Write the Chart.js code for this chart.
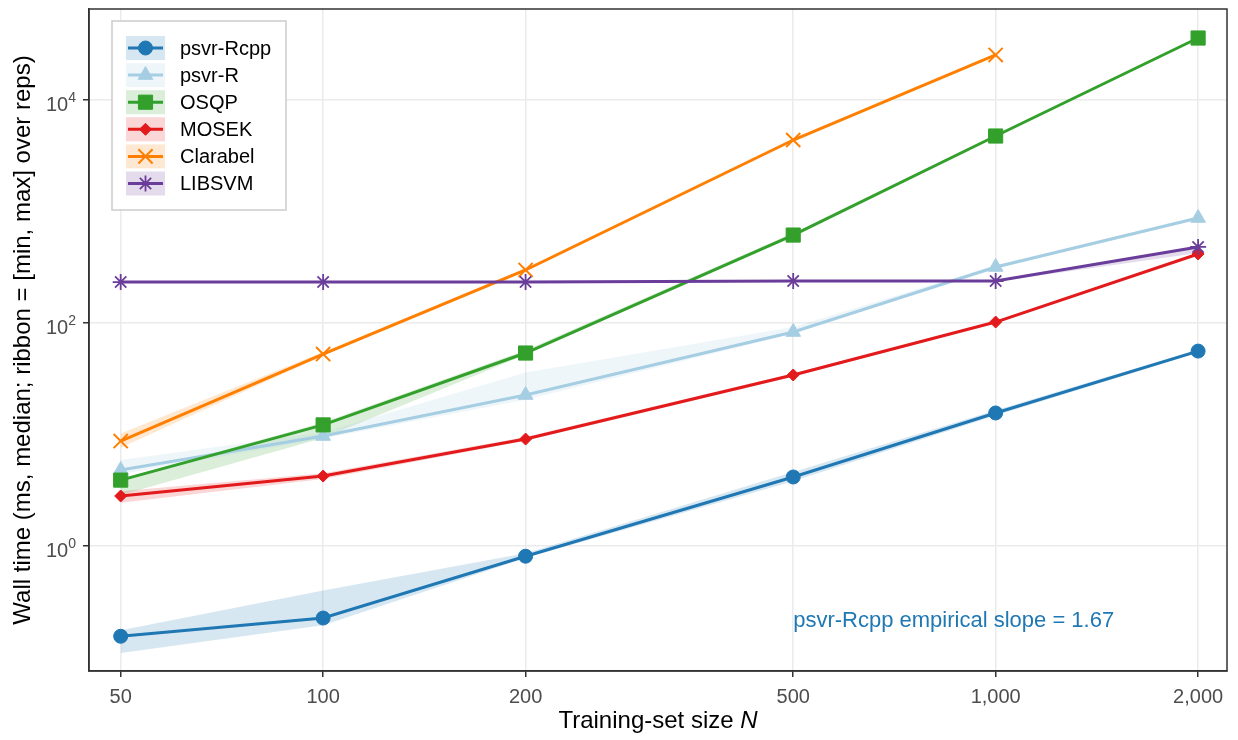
<!DOCTYPE html>
<html>
<head>
<meta charset="utf-8">
<script src="https://cdn.jsdelivr.net/npm/chart.js@4.4.1/dist/chart.umd.min.js"></script>
<style>
  html, body { margin: 0; padding: 0; background: #fff; }
  #wrap { width: 1238px; height: 740px; overflow: hidden; position: relative; }
  /* point overflow forces 12px top padding, so shift the canvas up a little */
  #chart { position: absolute; left: 0; top: -3px; }
</style>
</head>
<body>
<div id="wrap"><canvas id="chart" width="1239" height="743"></canvas></div>
<script>
// Training-set sizes (x) and tick labels
const sizes = [50, 100, 200, 500, 1000, 2000];
const xTicks = [50, 100, 200, 500, 1000, 2000];
const yTicks = [1, 100, 10000];

// Wall time in ms: median, min, max over reps
const rcppMed = [0.155, 0.226, 0.81, 4.16, 15.6, 56];
const rcppMin = [0.11, 0.195, 0.78, 3.8, 14.8, 54];
const rcppMax = [0.176, 0.40, 0.86, 4.6, 16.5, 58];

const psvrRMed = [4.8, 9.7, 22.6, 83, 318, 875];
const psvrRMin = [4.4, 9.2, 20.5, 80, 305, 850];
const psvrRMax = [5.9, 10.5, 36, 92, 330, 905];

const osqpMed = [3.9, 12.2, 53.8, 615, 4755, 35970];
const osqpMin = [2.87, 9.3, 52, 600, 4700, 35500];
const osqpMax = [4.0, 12.8, 57, 640, 4850, 36500];

const mosekMed = [2.81, 4.24, 9.1, 34.2, 102, 416];
const mosekMin = [2.45, 4.0, 8.8, 33, 100, 410];
const mosekMax = [3.1, 4.5, 9.5, 35.5, 105, 425];

const clarabelMed = [8.74, 52.7, 299, 4378, 25340];
const clarabelMin = [7.6, 51, 290, 4300, 25000];
const clarabelMax = [10.2, 55, 310, 4450, 25700];

const libsvmMed = [233, 233, 233, 238, 238, 481];
const libsvmMin = [229, 229, 229, 234, 234, 425];
const libsvmMax = [236, 236, 236, 241, 241, 490];

const slopeText = 'psvr-Rcpp empirical slope = 1.67';
const slopeAt = { x: 500, y: 0.212 };

const FONT = '"Liberation Sans", Arial, sans-serif';
const DY = 3; // canvas is shifted up by this much

const series = [
  { name: 'psvr-Rcpp', med: rcppMed, lo: rcppMin, hi: rcppMax, color: '#1f78b4', style: 'circle', radius: 7, bw: 1 },
  { name: 'psvr-R', med: psvrRMed, lo: psvrRMin, hi: psvrRMax, color: '#a6cee3', style: 'triangle', radius: 8.5, bw: 1 },
  { name: 'OSQP', med: osqpMed, lo: osqpMin, hi: osqpMax, color: '#33a02c', style: 'rect', radius: 10, bw: 1 },
  { name: 'MOSEK', med: mosekMed, lo: mosekMin, hi: mosekMax, color: '#e31a1c', style: 'rectRot', radius: 6, bw: 1 },
  { name: 'Clarabel', med: clarabelMed, lo: clarabelMin, hi: clarabelMax, color: '#ff7f00', style: 'crossRot', radius: 10, bw: 2 },
  { name: 'LIBSVM', med: libsvmMed, lo: libsvmMin, hi: libsvmMax, color: '#6a3d9a', style: 'star', radius: 8, bw: 1.8 }
];

function rgba(hex, a) {
  const n = parseInt(hex.slice(1), 16);
  return `rgba(${(n >> 16) & 255}, ${(n >> 8) & 255}, ${n & 255}, ${a})`;
}

function pts(vals) {
  return vals.map((v, i) => ({ x: sizes[i], y: v }));
}

// ribbons first (drawn underneath), then the median lines
const datasets = [];
series.forEach(s => {
  datasets.push({
    label: s.name + ' min', data: pts(s.lo), borderWidth: 0, pointRadius: 0,
    fill: false, order: 20, tension: 0
  });
  datasets.push({
    label: s.name + ' max', data: pts(s.hi), borderWidth: 0, pointRadius: 0,
    fill: '-1', backgroundColor: rgba(s.color, 0.18), order: 20, tension: 0
  });
});
series.forEach((s, i) => {
  datasets.push({
    label: s.name, data: pts(s.med), borderColor: s.color, backgroundColor: s.color,
    borderWidth: 3, tension: 0, fill: false, order: 10 - i,
    pointStyle: s.style, pointRadius: s.radius, pointBorderWidth: s.bw,
    pointBackgroundColor: s.color, pointBorderColor: s.color
  });
});

// plot frame, y tick labels with exponents, axis titles, annotation, legend
const extras = {
  id: 'extras',
  afterDraw(chart) {
    const ctx = chart.ctx;
    const area = chart.chartArea;
    const xs = chart.scales.x, ys = chart.scales.y;
    ctx.save();

    // frame
    ctx.strokeStyle = '#333333';
    ctx.lineWidth = 1.5;
    ctx.strokeRect(area.left, area.top, area.right - area.left, area.bottom - area.top);

    // y tick labels 10^k
    ctx.fillStyle = '#4d4d4d';
    yTicks.forEach(v => {
      const y = ys.getPixelForValue(v);
      const exp = String(Math.round(Math.log10(v)));
      ctx.font = `14px ${FONT}`;
      const ew = ctx.measureText(exp).width;
      const right = area.left - 13;
      ctx.textAlign = 'left';
      ctx.textBaseline = 'alphabetic';
      ctx.fillText(exp, right - ew, y + 2);
      ctx.font = `20px ${FONT}`;
      ctx.textAlign = 'right';
      ctx.textBaseline = 'middle';
      ctx.fillText('10', right - ew, y + 5);
    });

    // x title with italic N
    ctx.fillStyle = '#000';
    ctx.textBaseline = 'middle';
    ctx.textAlign = 'left';
    const t1 = 'Training-set size ';
    ctx.font = `24px ${FONT}`;
    const w1 = ctx.measureText(t1).width;
    ctx.font = `italic 24px ${FONT}`;
    const w2 = ctx.measureText('N').width;
    const cx = (area.left + area.right) / 2;
    const x0 = cx - (w1 + w2) / 2;
    ctx.font = `24px ${FONT}`;
    ctx.fillText(t1, x0, 721 + DY);
    ctx.font = `italic 24px ${FONT}`;
    ctx.fillText('N', x0 + w1, 721 + DY);

    // y title
    ctx.save();
    ctx.translate(23, (area.top + area.bottom) / 2);
    ctx.rotate(-Math.PI / 2);
    ctx.textAlign = 'center';
    ctx.font = `24px ${FONT}`;
    ctx.fillText('Wall time (ms, median; ribbon = [min, max] over reps)', 0, 0);
    ctx.restore();

    // slope annotation
    ctx.fillStyle = '#1f78b4';
    ctx.font = `22px ${FONT}`;
    ctx.textAlign = 'left';
    ctx.textBaseline = 'middle';
    ctx.fillText(slopeText, xs.getPixelForValue(slopeAt.x), ys.getPixelForValue(slopeAt.y));

    // legend
    const lx = 112, ly = 21 + DY, lw = 174, lh = 189;
    ctx.fillStyle = '#fff';
    ctx.fillRect(lx, ly, lw, lh);
    ctx.strokeStyle = '#cccccc';
    ctx.lineWidth = 1.5;
    ctx.strokeRect(lx, ly, lw, lh);
    series.forEach((s, i) => {
      const cy = 48 + DY + i * 27.1;
      ctx.fillStyle = rgba(s.color, 0.18);
      ctx.fillRect(126, cy - 12, 39, 24);
      ctx.strokeStyle = s.color;
      ctx.lineWidth = 3;
      ctx.beginPath();
      ctx.moveTo(128, cy);
      ctx.lineTo(163, cy);
      ctx.stroke();
      ctx.fillStyle = s.color;
      ctx.lineWidth = s.bw;
      Chart.helpers.drawPoint(ctx, { pointStyle: s.style, rotation: 0, radius: s.radius, borderWidth: s.bw }, 145.5, cy);
      ctx.fillStyle = '#000';
      ctx.font = `20px ${FONT}`;
      ctx.textAlign = 'left';
      ctx.textBaseline = 'middle';
      ctx.fillText(s.name, 180, cy + 1);
    });

    ctx.restore();
  }
};

new Chart(document.getElementById('chart'), {
  type: 'line',
  data: { datasets },
  options: {
    responsive: false,
    animation: false,
    events: [],
    layout: { padding: { top: 12, right: 12, left: 0, bottom: 0 } },
    plugins: { legend: { display: false }, tooltip: { enabled: false } },
    scales: {
      x: {
        type: 'logarithmic',
        min: 44.86,
        max: 2208,
        bounds: 'data',
        afterBuildTicks: s => { s.ticks = xTicks.map(v => ({ value: v })); },
        afterFit: s => { s.height = 69; },
        ticks: {
          autoSkip: false, maxRotation: 0, padding: 8,
          color: '#4d4d4d', font: { family: FONT, size: 20 },
          callback: v => Number(v).toLocaleString('en-US')
        },
        grid: { color: '#ebebeb', lineWidth: 1.5, tickColor: '#333333', tickWidth: 1.5, tickLength: 6 },
        border: { color: '#333333', width: 1.5 }
      },
      y: {
        type: 'logarithmic',
        min: 0.0757,
        max: 65500,
        bounds: 'data',
        afterBuildTicks: s => { s.ticks = yTicks.map(v => ({ value: v })); },
        afterFit: s => { s.width = 89; },
        ticks: { display: false },
        grid: { color: '#ebebeb', lineWidth: 1.5, tickColor: '#333333', tickWidth: 1.5, tickLength: 6 },
        border: { color: '#333333', width: 1.5 }
      }
    }
  },
  plugins: [extras]
});
</script>
</body>
</html>
